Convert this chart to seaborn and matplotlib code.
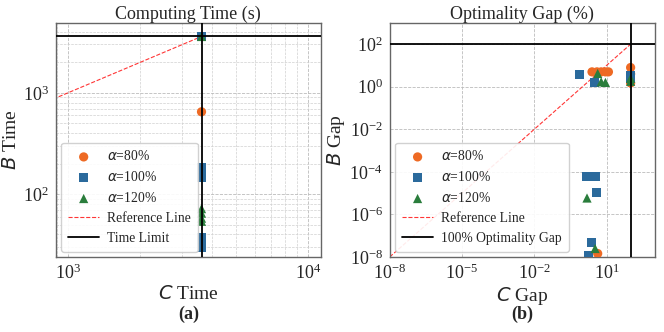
import matplotlib
matplotlib.use("Agg")
import matplotlib.pyplot as plt
import seaborn as sns
import pandas as pd

# ---- data ----
labels = ["$\\alpha$=80%", "$\\alpha$=100%", "$\\alpha$=120%"]
colors = ["#EE6A24", "#2B6A9C", "#2A7D3C"]
markers = ["o", "s", "^"]

# (a) computing time: C time vs B time
c_time = [
    [3600, 3600],
    [3600, 3600, 3600, 3600, 3600],
    [3600, 3600, 3600, 3600, 3600],
]
b_time = [
    [3600, 650],
    [3600, 181, 147, 37, 30],
    [3600, 72, 65, 58, 54],
]
time_limit = 3600
ref_time = [1, 3600]

# (b) optimality gap: C gap vs B gap
c_gap = [
    [2.5, 4, 6, 9, 12, 100, 100, 100, 4.3],
    [0.75, 3.2, 100, 100, 1.5, 3.4, 3.7, 2.3, 1.8],
    [4.3, 6, 9, 100, 100, 1.55, 3.35],
]
b_gap = [
    [5, 5, 5, 5, 5, 8, 4, 1.5, 1.45e-8],
    [3.8, 1.6, 3.5, 2.5, 6.2e-5, 6.2e-5, 1.1e-5, 4.6e-8, 1.2e-8],
    [4.2, 1.7, 1.6, 2.5, 1.8, 5.9e-6, 2.5e-8],
]
gap_limit = 100
ref_gap = [1e-8, 100]

sns.set_style("white")
plt.rcParams["font.family"] = ["Liberation Serif", "DejaVu Serif"]
plt.rcParams["mathtext.fontset"] = "dejavusans"

fig, (ax1, ax2) = plt.subplots(1, 2, figsize=(6.64, 3.32), dpi=100)
fig.subplots_adjust(left=0.084, right=0.986, top=0.931, bottom=0.226, wspace=0.26)


def draw(ax, xs, ys, ref, limit, limit_label):
    for x, y, lab, col, mk in zip(xs, ys, labels, colors, markers):
        df = pd.DataFrame({"x": x, "y": y})
        sns.scatterplot(data=df, x="x", y="y", ax=ax, color=col, marker=mk,
                        s=44, edgecolor="none", label=lab, zorder=3)
    ax.plot(ref, ref, color="#ff2020", ls="--", lw=0.8, alpha=0.9,
            label="Reference Line", zorder=2)
    ax.axhline(limit, color="black", lw=1.3, label=limit_label, zorder=4)
    ax.axvline(limit, color="black", lw=1.3, zorder=4)
    ax.set_xscale("log")
    ax.set_yscale("log")
    for s in ax.spines.values():
        s.set_color("#666666")
        s.set_linewidth(1.0)
    ax.tick_params(labelsize=13, length=3, color="#666666", direction="out", pad=2)
    ax.tick_params(which="minor", length=2, color="#666666")


draw(ax1, c_time, b_time, ref_time, time_limit, "Time Limit")
ax1.set_xlim(890, 11300)
ax1.set_ylim(24, 4900)
ax1.grid(True, which="major", ls="--", lw=0.6, color="#bbbbbb")
ax1.grid(True, which="minor", ls="--", lw=0.5, color="#d0d0d0")
ax1.set_title("Computing Time (s)", fontsize=13, pad=3)
ax1.set_xlabel("$C$ Time", fontsize=14, labelpad=1)
ax1.set_ylabel("$B$ Time", fontsize=14, labelpad=2)

draw(ax2, c_gap, b_gap, ref_gap, gap_limit, "100% Optimality Gap")
ax2.set_xlim(1e-8, 1e3)
ax2.set_ylim(1e-8, 1e3)
ax2.set_xticks([1e-8, 1e-5, 1e-2, 1e1])
ax2.set_yticks([1e-8, 1e-6, 1e-4, 1e-2, 1e0, 1e2])
ax2.minorticks_off()
ax2.grid(True, which="major", ls="--", lw=0.6, color="#bbbbbb")
ax2.set_title("Optimality Gap (%)", fontsize=13, pad=3)
ax2.set_xlabel("$C$ Gap", fontsize=14, labelpad=1)
ax2.set_ylabel("$B$ Gap", fontsize=14, labelpad=2)

for ax in (ax1, ax2):
    ax.legend(loc="lower left", fontsize=9.8, frameon=True, framealpha=0.9,
              edgecolor="#cccccc", handlelength=2.3, borderpad=0.5,
              labelspacing=0.5, handletextpad=0.6, borderaxespad=0.4)

fig.text(0.285, 0.04, "(a)", ha="center", fontsize=13, fontweight="bold")
fig.text(0.787, 0.04, "(b)", ha="center", fontsize=13, fontweight="bold")

fig.savefig("out.png", dpi=100)
